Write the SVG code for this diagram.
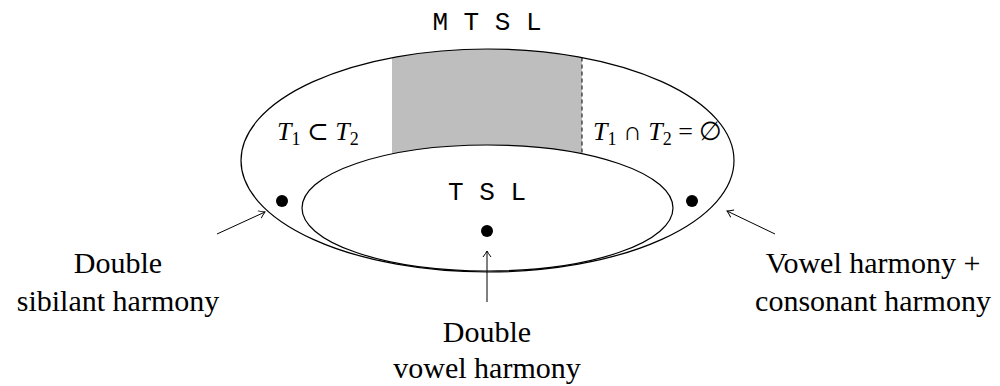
<svg xmlns="http://www.w3.org/2000/svg" width="1000" height="386" viewBox="0 0 1000 386">
<style>
.ell{fill:none;stroke:#000;stroke-width:1.2}
.tt{font-family:"Liberation Mono",monospace;font-size:26px;fill:#000}
.lbl{font-family:"Liberation Serif",serif;font-size:30px;fill:#000;text-anchor:middle}
.math{font-family:"Liberation Serif","DejaVu Serif",serif;font-size:26px;fill:#000}
.it{font-style:italic}
.sub{font-size:18px}
.conn{fill:none;stroke:#000;stroke-width:1}
</style>
<defs>
<marker id="arr" markerUnits="userSpaceOnUse" markerWidth="12" markerHeight="12" viewBox="-8 -6 10 12" refX="0" refY="0" orient="auto">
<path d="M-6,-4 Q-2,-1 0,0 Q-2,1 -6,4" fill="none" stroke="#000" stroke-width="1"/>
</marker>
</defs>
<g id="shaded">
<path d="M392,57.7 A246.5,111.5 0 0 1 582,57.5 L582,153.8 A185.5,63 0 0 0 392,154 Z" fill="#bebebe"/>
<line x1="582" y1="57.5" x2="582" y2="153.8" stroke="#000" stroke-width="1" stroke-dasharray="4,3"/>
</g>
<g id="mtsl">
<ellipse class="ell" cx="487.5" cy="160.5" rx="246.5" ry="111.5"/>
<text class="tt" x="487" y="30" text-anchor="middle">M T S L</text>
<text class="math" x="277" y="140"><tspan class="it">T</tspan><tspan class="sub" dy="5">1</tspan><tspan dy="-5"> ⊂ </tspan><tspan class="it">T</tspan><tspan class="sub" dy="5">2</tspan></text>
<text class="math" x="593" y="140"><tspan class="it">T</tspan><tspan class="sub" dy="5">1</tspan><tspan dy="-5"> ∩ </tspan><tspan class="it">T</tspan><tspan class="sub" dy="5">2</tspan><tspan dy="-5"> = ∅</tspan></text>
</g>
<g id="tsl">
<ellipse class="ell" cx="487.5" cy="208" rx="185.5" ry="63"/>
<text class="tt" x="487" y="200" text-anchor="middle">T S L</text>
</g>
<g id="dot-left"><circle cx="282" cy="201" r="6"/></g>
<g id="dot-mid"><circle cx="487" cy="231" r="6"/></g>
<g id="dot-right"><circle cx="692" cy="201" r="6"/></g>
<g id="label-left">
<text class="lbl" x="118" y="273">Double</text>
<text class="lbl" x="118" y="311">sibilant harmony</text>
</g>
<g id="label-mid">
<text class="lbl" x="487" y="342">Double</text>
<text class="lbl" x="487" y="378">vowel harmony</text>
</g>
<g id="label-right">
<text class="lbl" x="873" y="273">Vowel harmony +</text>
<text class="lbl" x="873" y="311">consonant harmony</text>
</g>
<g id="connectors">
<line class="conn" x1="217" y1="234" x2="265" y2="212" marker-end="url(#arr)"/>
<line class="conn" x1="775" y1="234" x2="727" y2="211" marker-end="url(#arr)"/>
<line class="conn" x1="487" y1="302" x2="487" y2="251" marker-end="url(#arr)"/>
</g>
</svg>
